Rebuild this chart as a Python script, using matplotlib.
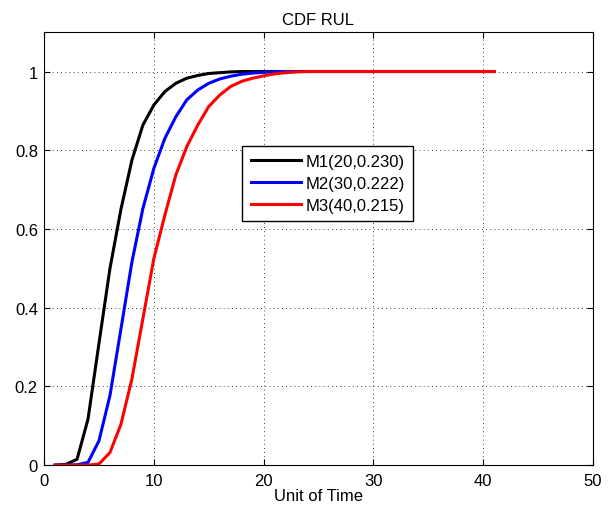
# CDF of remaining useful life for three models

import matplotlib
matplotlib.use('Agg')
import matplotlib.pyplot as plt

plt.rcParams['font.family'] = ['Liberation Sans', 'DejaVu Sans']

# time steps 1..41
t = list(range(1, 42))

m1_head = [0, 0.002, 0.015, 0.117, 0.31, 0.5, 0.65, 0.775, 0.864, 0.915,
           0.949, 0.97, 0.983, 0.99, 0.995, 0.997, 0.999]
m2_head = [0, 0, 0.001, 0.007, 0.062, 0.177, 0.346, 0.516, 0.652, 0.754,
           0.83, 0.885, 0.928, 0.953, 0.97, 0.981, 0.988, 0.993, 0.996, 0.998,
           0.999]
m3_head = [0, 0, 0, 0, 0.003, 0.032, 0.104, 0.219, 0.372, 0.525,
           0.635, 0.737, 0.809, 0.864, 0.911, 0.94, 0.962, 0.975, 0.983, 0.989,
           0.994, 0.997, 0.999]

m1 = m1_head + [1.0] * (len(t) - len(m1_head))
m2 = m2_head + [1.0] * (len(t) - len(m2_head))
m3 = m3_head + [1.0] * (len(t) - len(m3_head))

labels = ['M1(20,0.230)', 'M2(30,0.222)', 'M3(40,0.215)']

fig = plt.figure(figsize=(6.13, 5.10), dpi=100)
ax = fig.add_axes([0.072, 0.086, 0.895, 0.849])

ax.plot(t, m1, color='black', linewidth=2.2, label=labels[0])
ax.plot(t, m2, color='blue', linewidth=2.2, label=labels[1])
ax.plot(t, m3, color='red', linewidth=2.2, label=labels[2])

ax.set_xlim(0, 50)
ax.set_ylim(0, 1.1)
ax.set_xticks([0, 10, 20, 30, 40, 50])
ax.set_yticks([0, 0.2, 0.4, 0.6, 0.8, 1])
ax.set_yticklabels(['0', '0.2', '0.4', '0.6', '0.8', '1'])
ax.tick_params(direction='in', labelsize=12, top=True, right=True, length=4)
ax.tick_params(axis='x', pad=5.5)
ax.tick_params(axis='y', pad=4.5)
ax.grid(True, linestyle=(0, (1, 4)), color='black', linewidth=0.6)

ax.set_xlabel('Unit of Time', fontsize=12, labelpad=0)
ax.set_title('CDF RUL', fontsize=12, pad=6)

leg = ax.legend(loc='upper left', bbox_to_anchor=(0.361, 0.738), fontsize=12,
                fancybox=False, edgecolor='black', framealpha=1,
                handlelength=3, handletextpad=0.3, borderpad=0.5,
                labelspacing=0.42, borderaxespad=0)
leg.get_frame().set_linewidth(1)

fig.savefig('out.png', dpi=100)
